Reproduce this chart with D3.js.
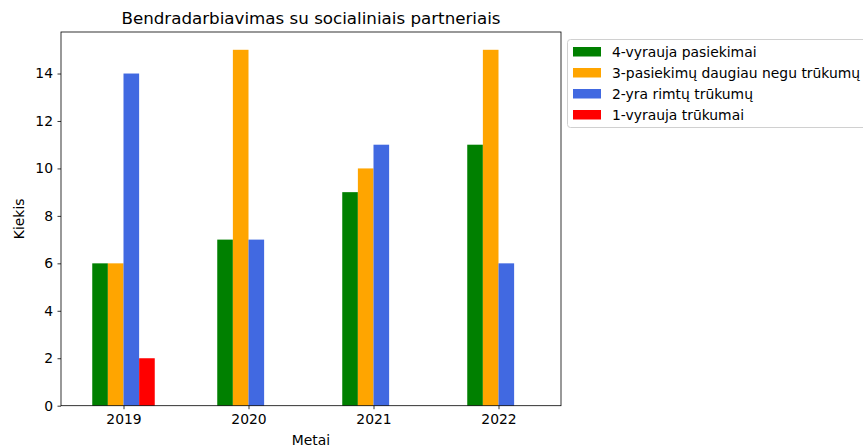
<!DOCTYPE html>
<html><head><meta charset="utf-8">
<script src="https://cdn.jsdelivr.net/npm/d3@7"></script>
<style>body{margin:0;background:#fff;overflow:hidden;} svg{display:block;font-family:"DejaVu Sans",sans-serif;}</style>
</head><body>
<script>
const years = [2019, 2020, 2021, 2022];
const seriesNames = ["4-vyrauja pasiekimai", "3-pasiekimų daugiau negu trūkumų", "2-yra rimtų trūkumų", "1-vyrauja trūkumai"];
const seriesColors = ["green", "orange", "royalblue", "red"];
const s4 = [6, 7, 9, 11];
const s3 = [6, 15, 10, 15];
const s2 = [14, 7, 11, 6];
const s1 = [2, 0, 0, 0];
const seriesValues = [s4, s3, s2, s1];
const yTicks = [0, 2, 4, 6, 8, 10, 12, 14];

const W = 863, H = 447;
const L = 61, R = 561, T = 32, B = 405.7;
const svg = d3.select("body").append("svg").attr("width", W).attr("height", H);

const x = d3.scaleLinear().domain([2018.5, 2022.5]).range([L, R]);
const y = d3.scaleLinear().domain([0, 15.75]).range([B, T]);
const bw = 0.125;
const offsets = [-1.5, -0.5, 0.5, 1.5];

seriesValues.forEach((vals, si) => {
  svg.append("g").selectAll("rect").data(vals).join("rect")
    .attr("x", (d, i) => x(years[i] + (offsets[si] - 0.5) * bw))
    .attr("width", (d, i) => x(years[i] + (offsets[si] + 0.5) * bw) - x(years[i] + (offsets[si] - 0.5) * bw))
    .attr("y", d => y(d))
    .attr("height", d => B - y(d))
    .attr("fill", seriesColors[si]);
});

const xAxis = svg.append("g").attr("transform", `translate(0,${B})`)
  .call(d3.axisBottom(x).tickValues(years).tickFormat(d3.format("d")).tickSize(3.5).tickPadding(4.5));
const yAxis = svg.append("g").attr("transform", `translate(${L},0)`)
  .call(d3.axisLeft(y).tickValues(yTicks).tickSize(3.5).tickPadding(4.5));
[xAxis, yAxis].forEach(a => {
  a.select(".domain").remove();
  a.selectAll("text").attr("font-size", 13.9).attr("font-family", "DejaVu Sans").attr("fill", "#000");
  a.selectAll("line").attr("stroke", "#000").attr("stroke-width", 0.8);
});

svg.append("rect").attr("x", L).attr("y", T).attr("width", R - L).attr("height", B - T)
  .attr("fill", "none").attr("stroke", "#000").attr("stroke-width", 0.8);

svg.append("text").attr("x", (L + R) / 2).attr("y", 24).attr("text-anchor", "middle")
  .attr("font-size", 16.7).text("Bendradarbiavimas su socialiniais partneriais");
svg.append("text").attr("x", (L + R) / 2).attr("y", 445).attr("text-anchor", "middle")
  .attr("font-size", 13.9).text("Metai");
svg.append("text").attr("transform", `translate(24,${(T + B) / 2}) rotate(-90)`).attr("text-anchor", "middle")
  .attr("font-size", 13.9).text("Kiekis");

const lg = svg.append("g");
lg.append("rect").attr("x", 567.5).attr("y", 39.5).attr("width", 340).attr("height", 88)
  .attr("rx", 3).attr("fill", "#fff").attr("stroke", "#d0d0d0").attr("stroke-width", 1);
seriesNames.forEach((n, i) => {
  const cy = 51.5 + i * 21;
  lg.append("rect").attr("x", 573).attr("y", cy - 4.5).attr("width", 28).attr("height", 9.5).attr("fill", seriesColors[i]);
  lg.append("text").attr("x", 612).attr("y", cy + 5).attr("font-size", 13.9).text(n);
});
</script>
</body></html>
